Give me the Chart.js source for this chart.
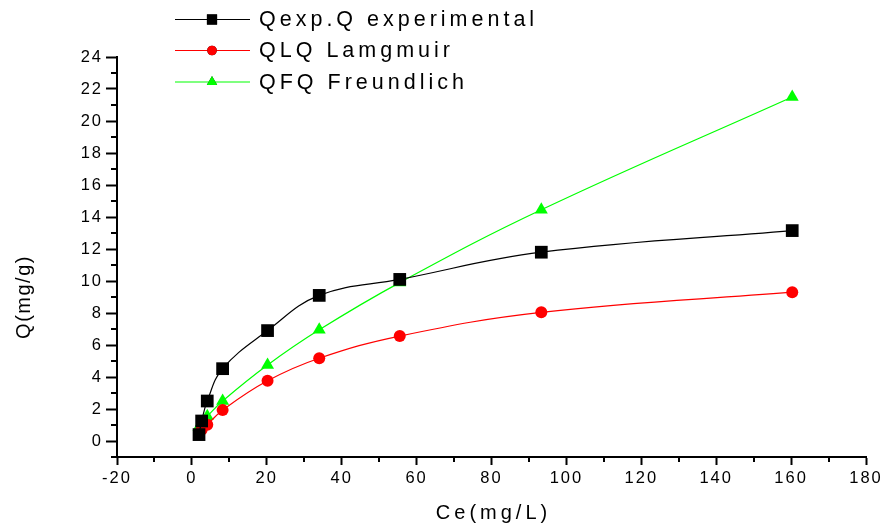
<!DOCTYPE html>
<html>
<head>
<meta charset="utf-8">
<script src="https://cdn.jsdelivr.net/npm/chart.js@4.4.1/dist/chart.umd.min.js"></script>
<style>
  html, body { margin: 0; padding: 0; background: #fff; }
  #wrap { width: 884px; height: 527px; }
</style>
</head>
<body>
<div id="wrap"><canvas id="chart-isotherm" width="884" height="527"></canvas></div>
<script>
// Equilibrium concentration Ce (mg/L) and adsorbed amount Q (mg/g)
const ce = [1.9, 2.6, 4.1, 8.2, 20.2, 34.0, 55.5, 93.3, 160.3];
const qExp = [0.4, 1.25, 2.5, 4.52, 6.9, 9.1, 10.1, 11.8, 13.15];
const qLangmuir = [0.48, 0.7, 1.02, 1.93, 3.76, 5.17, 6.56, 8.04, 9.3];
const qFreundlich = [0.88, 1.15, 1.55, 2.5, 4.75, 6.95, 9.9, 14.45, 21.5];

const seriesLabels = ['Qexp.Q experimental', 'QLQ Lamgmuir', 'QFQ Freundlich'];
const yTickValues = [0, 2, 4, 6, 8, 10, 12, 14, 16, 18, 20, 22, 24];
const xMinorValues = [-10, 10, 30, 50, 70, 90, 110, 130, 150, 170];
const yMinorValues = [-1, 1, 3, 5, 7, 9, 11, 13, 15, 17, 19, 21, 23];

const FONT = "'Liberation Sans', Arial, sans-serif";

const toPoints = ys => ce.map((x, i) => ({ x, y: ys[i] }));

const styles = [
  { color: '#000000', shape: 'rect', radius: 9 },
  { color: '#ff0000', shape: 'circle', radius: 6 },
  { color: '#00ff00', shape: 'triangle', radius: 7.5 },
];

const makeSet = (label, ys, st) => ({
  label,
  data: toPoints(ys),
  showLine: true,
  borderColor: st.color,
  borderWidth: 1.2,
  backgroundColor: st.color,
  pointStyle: st.shape,
  pointRadius: st.radius,
  pointBorderWidth: 0,
  tension: 0.4,
});

// minor ticks, axis titles and the legend block
const decor = {
  id: 'decor',
  beforeDraw(chart) {
    chart.ctx.letterSpacing = '2px';
  },
  afterDraw(chart) {
    const ctx = chart.ctx;
    const xs = chart.scales.x;
    const ys = chart.scales.y;
    const left = chart.chartArea.left;
    const bottom = chart.chartArea.bottom;

    ctx.save();
    ctx.strokeStyle = '#000';
    ctx.lineWidth = 2;
    ctx.beginPath();
    xMinorValues.forEach(v => {
      const px = Math.round(xs.getPixelForValue(v));
      ctx.moveTo(px, bottom);
      ctx.lineTo(px, bottom + 5);
    });
    yMinorValues.forEach(v => {
      const py = Math.round(ys.getPixelForValue(v));
      ctx.moveTo(left, py);
      ctx.lineTo(left - 6, py);
    });
    ctx.stroke();

    // axis titles
    ctx.fillStyle = '#000';
    ctx.font = '20px ' + FONT;
    ctx.letterSpacing = '4px';
    ctx.textAlign = 'center';
    ctx.textBaseline = 'middle';
    ctx.fillText('Ce(mg/L)', (chart.chartArea.left + chart.chartArea.right) / 2 + 2, 513);
    ctx.save();
    ctx.translate(24, 298);
    ctx.rotate(-Math.PI / 2);
    ctx.letterSpacing = '1.5px';
    ctx.fillText('Q(mg/g)', 1, 0);
    ctx.restore();

    // legend
    const rows = [19.5, 50.5, 82];
    ctx.font = '21.5px ' + FONT;
    ctx.letterSpacing = '4px';
    ctx.textAlign = 'left';
    chart.data.datasets.forEach((ds, i) => {
      const y = rows[i];
      ctx.strokeStyle = ds.borderColor;
      ctx.lineWidth = 1.2;
      ctx.beginPath();
      ctx.moveTo(175, y);
      ctx.lineTo(250, y);
      ctx.stroke();
      Chart.helpers.drawPoint(ctx, {
        pointStyle: ds.pointStyle,
        radius: ds.pointRadius * 0.8,
        borderWidth: 0,
      }, 212, y);
      ctx.fillStyle = ds.backgroundColor;
      ctx.fill();
      ctx.fillStyle = '#000';
      ctx.fillText(ds.label, 259, y + 1);
    });
    ctx.restore();
  },
};

new Chart(document.getElementById('chart-isotherm'), {
  type: 'scatter',
  data: {
    datasets: [
      makeSet(seriesLabels[0], qExp, styles[0]),
      makeSet(seriesLabels[1], qLangmuir, styles[1]),
      makeSet(seriesLabels[2], qFreundlich, styles[2]),
    ],
  },
  options: {
    responsive: false,
    animation: false,
    layout: { padding: { top: 57, right: 18, left: 0, bottom: 0 } },
    plugins: {
      legend: { display: false },
      tooltip: { enabled: false },
    },
    scales: {
      x: {
        type: 'linear',
        min: -20,
        max: 180,
        afterFit: s => { s.height = 70; },
        border: { display: true, width: 2, color: '#000' },
        grid: { drawOnChartArea: false, drawTicks: true, tickLength: 8, tickWidth: 2, tickColor: '#000' },
        ticks: { stepSize: 20, color: '#000', padding: 4, font: { family: FONT, size: 16.5 } },
      },
      y: {
        type: 'linear',
        min: -1,
        max: 24,
        afterFit: s => { s.width = 117; },
        afterBuildTicks: s => { s.ticks = yTickValues.map(value => ({ value })); },
        border: { display: true, width: 2, color: '#000' },
        grid: { drawOnChartArea: false, drawTicks: true, tickLength: 11, tickWidth: 2, tickColor: '#000' },
        ticks: { color: '#000', padding: 3, font: { family: FONT, size: 16.5 } },
      },
    },
  },
  plugins: [decor],
});
</script>
</body>
</html>
